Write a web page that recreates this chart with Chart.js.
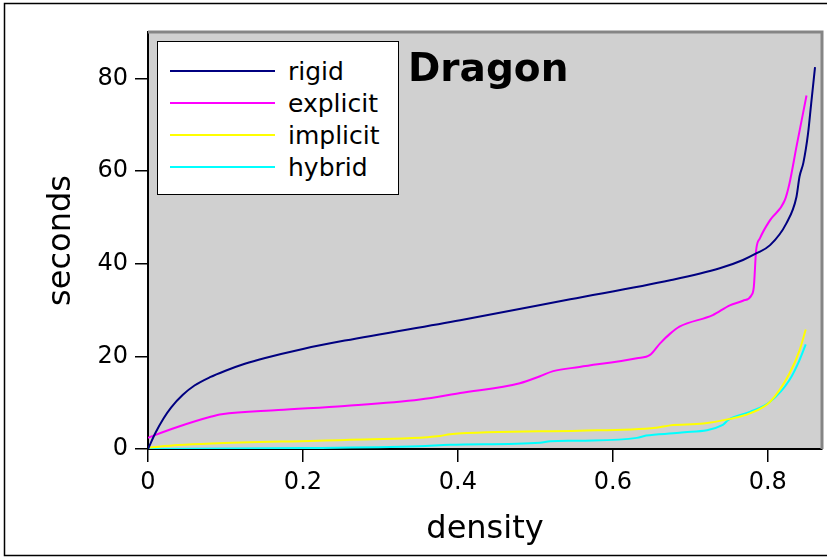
<!DOCTYPE html>
<html>
<head>
<meta charset="utf-8">
<script src="https://cdn.jsdelivr.net/npm/chart.js@4/dist/chart.umd.min.js"></script>
<style>
  body { margin: 0; background: #fff; font-family: "DejaVu Sans", sans-serif; }
  #wrap { position: relative; width: 827px; height: 558px; }
  #legend {
    position: absolute; left: 157px; top: 41px; width: 240px; height: 152px;
    background: #fff; border: 1.5px solid #000;
  }
  #legend .line { position: absolute; left: 12px; width: 105px; height: 2px; }
  #legend .label { position: absolute; left: 130px; font-size: 25px; line-height: 32px; color: #000; }
  #title {
    position: absolute; left: 408px; top: 46px; font-size: 39px; line-height: 44px;
    font-weight: bold; color: #000;
  }
</style>
</head>
<body>
<div id="wrap">
  <canvas id="chart" width="827" height="558"></canvas>
  <div id="legend"></div>
  <div id="title">Dragon</div>
</div>
<script>
/* series: density (x) vs seconds (y) */
const seriesNames = ['rigid', 'explicit', 'implicit', 'hybrid'];
const seriesColors = ['#000080', '#ff00ff', '#ffff00', '#00ffff'];

const rigidX = [0, 0.01, 0.02, 0.03, 0.045, 0.06, 0.08, 0.1, 0.125, 0.15, 0.2, 0.254, 0.403, 0.545, 0.674, 0.738, 0.768, 0.785, 0.803, 0.824, 0.837, 0.841, 0.846, 0.852, 0.856, 0.861];
const rigidY = [0, 3.6, 6.6, 9.0, 11.7, 13.7, 15.5, 16.9, 18.4, 19.6, 21.6, 23.4, 27.8, 32.3, 36.4, 39.0, 40.8, 42.2, 44.0, 48.7, 54.4, 58.8, 61.8, 68.1, 74.5, 82.4];

const explicitX = [0, 0.009, 0.039, 0.082, 0.095, 0.168, 0.254, 0.351, 0.403, 0.48, 0.506, 0.523, 0.557, 0.631, 0.648, 0.661, 0.674, 0.686, 0.729, 0.751, 0.768, 0.779, 0.782, 0.785, 0.79, 0.803, 0.822, 0.828, 0.837, 0.85];
const explicitY = [2.4, 3.0, 4.8, 7.0, 7.5, 8.4, 9.3, 10.7, 12.1, 14.2, 15.7, 16.8, 17.7, 19.6, 20.3, 22.8, 24.9, 26.4, 28.9, 31.0, 32.0, 33.2, 35.0, 42.9, 45.5, 49.4, 53.7, 57.3, 65.2, 76.3];

const implicitX = [0, 0.039, 0.082, 0.254, 0.377, 0.39, 0.557, 0.656, 0.674, 0.717, 0.751, 0.777, 0.803, 0.828, 0.841, 0.849];
const implicitY = [0.3, 0.86, 1.2, 1.94, 2.8, 3.2, 3.95, 4.6, 5.1, 5.5, 6.5, 7.7, 10.2, 16.3, 21.3, 25.8];

const hybridX = [0, 0.2, 0.35, 0.39, 0.506, 0.519, 0.557, 0.631, 0.643, 0.686, 0.742, 0.749, 0.777, 0.803, 0.828, 0.841, 0.849];
const hybridY = [0, 0.2, 0.6, 0.9, 1.36, 1.65, 1.8, 2.4, 2.9, 3.5, 5.2, 6.3, 8.0, 10.2, 14.9, 19.2, 22.6];

const xTicks = [0, 0.2, 0.4, 0.6, 0.8];
const yTicks = [0, 20, 40, 60, 80];

function toPoints(xs, ys) {
    return xs.map((x, i) => ({ x: x, y: ys[i] }));
}

const allX = [rigidX, explicitX, implicitX, hybridX];
const allY = [rigidY, explicitY, implicitY, hybridY];

// grey plot background, grey top/right frame and the outer box
const framePlugin = {
    id: 'frame',
    beforeDraw(chart) {
        const ctx = chart.ctx;
        const a = chart.chartArea;
        ctx.save();
        ctx.fillStyle = '#d0d0d0';
        ctx.fillRect(a.left, a.top, a.right - a.left, a.bottom - a.top);
        ctx.strokeStyle = '#000';
        ctx.lineWidth = 1.5;
        ctx.strokeRect(4.5, 3.5, 840, 552);
        ctx.restore();
    },
    afterDatasetsDraw(chart) {
        const ctx = chart.ctx;
        const a = chart.chartArea;
        ctx.save();
        ctx.strokeStyle = '#858585';
        ctx.lineWidth = 3;
        ctx.beginPath();
        ctx.moveTo(a.left, a.top);
        ctx.lineTo(a.right, a.top);
        ctx.lineTo(a.right, a.bottom);
        ctx.stroke();
        ctx.restore();
    }
};

const chart = new Chart(document.getElementById('chart'), {
    type: 'line',
    data: {
        datasets: seriesNames.map((name, i) => ({
            label: name,
            data: toPoints(allX[i], allY[i]),
            borderColor: seriesColors[i],
            borderWidth: 2,
            pointRadius: 0,
            cubicInterpolationMode: 'monotone',
            fill: false
        }))
    },
    options: {
        responsive: false,
        animation: false,
        layout: { padding: { top: 32, right: 5, left: 0, bottom: 0 } },
        plugins: { legend: { display: false }, title: { display: false }, tooltip: { enabled: false } },
        scales: {
            x: {
                type: 'linear',
                min: 0,
                max: 0.87,
                afterFit: s => { s.height = 109; },
                afterBuildTicks: s => { s.ticks = xTicks.map(v => ({ value: v })); },
                border: { color: '#000', width: 2 },
                grid: { display: true, drawOnChartArea: false, drawTicks: true, tickLength: 13, color: '#000', lineWidth: 1.5 },
                ticks: {
                    color: '#000', padding: 6,
                    font: { family: 'DejaVu Sans', size: 24 },
                    callback: v => v === 0 ? '0' : v.toFixed(1)
                },
                title: {
                    display: true, text: 'density', color: '#000',
                    font: { family: 'DejaVu Sans', size: 32 },
                    padding: { top: 0, bottom: 9 }
                }
            },
            y: {
                type: 'linear',
                min: 0,
                max: 90,
                afterFit: s => { s.width = 148; },
                afterBuildTicks: s => { s.ticks = yTicks.map(v => ({ value: v })); },
                border: { color: '#000', width: 2 },
                grid: { display: true, drawOnChartArea: false, drawTicks: true, tickLength: 13, color: '#000', lineWidth: 1.5 },
                ticks: {
                    color: '#000', padding: 7,
                    font: { family: 'DejaVu Sans', size: 24 }
                },
                title: {
                    display: true, text: 'seconds', color: '#000',
                    font: { family: 'DejaVu Sans', size: 32 },
                    padding: { top: 42, bottom: 0 }
                }
            }
        }
    },
    plugins: [framePlugin]
});

// legend box built from the datasets
const legend = document.getElementById('legend');
chart.data.datasets.forEach((ds, i) => {
    const lineY = 29 + i * 32;
    const line = document.createElement('div');
    line.className = 'line';
    line.style.top = (lineY - 1) + 'px';
    line.style.background = ds.borderColor;
    legend.appendChild(line);
    const label = document.createElement('div');
    label.className = 'label';
    label.style.top = (lineY - 15) + 'px';
    label.textContent = ds.label;
    legend.appendChild(label);
});
</script>
</body>
</html>
